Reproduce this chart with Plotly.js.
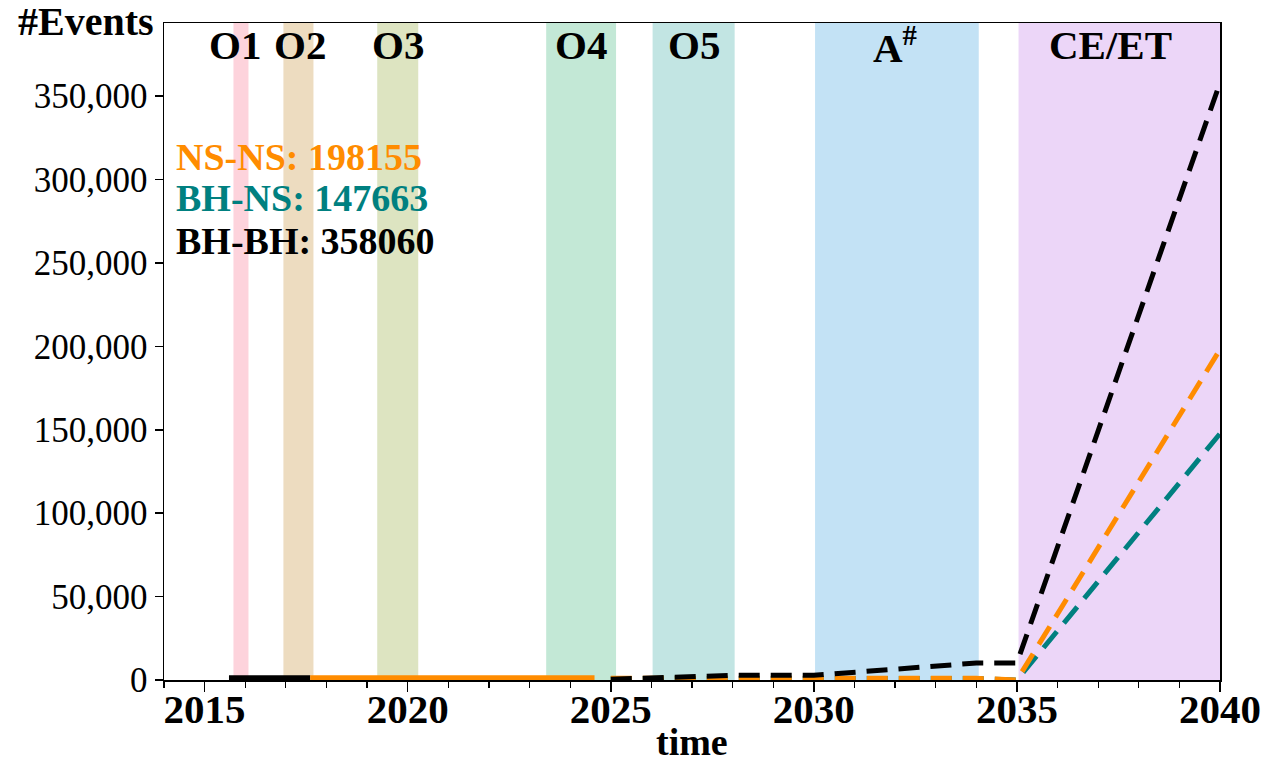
<!DOCTYPE html>
<html>
<head>
<meta charset="utf-8">
<script src="https://cdn.plot.ly/plotly-3.0.1.min.js"></script>
<style>html,body{margin:0;padding:0;background:#fff;}#chart{width:1270px;height:763px;}</style>
</head>
<body>
<div id="chart"></div>
<script>
// Observing runs (shaded bands)
const runNames  = ["O1", "O2", "O3", "O4", "O5", "A<sup>#</sup>", "CE/ET"];
const runStart  = [2015.71, 2016.94, 2019.25, 2023.41, 2026.03, 2030.03, 2035.04];
const runEnd    = [2016.08, 2017.68, 2020.26, 2025.13, 2028.05, 2034.06, 2040.0];
const runLabelX = [2015.75, 2017.35, 2019.75, 2024.27, 2027.04, 2032.0, 2037.3];
const runColors = ["#fdd3dc", "#eddcc0", "#dde4c1", "#c3e8d6", "#c2e5e3", "#c3e2f5", "#ecd6f8"];

// Observed (solid) segments
const bbSolidX = [2015.6, 2017.6];
const bbSolidY = [1300, 1300];
const nsSolidX = [2017.6, 2020.3, 2024.6];
const nsSolidY = [1300, 1300, 1300];

// Projected (dashed) segments
const projX   = [2025, 2026, 2027, 2028, 2030, 2034, 2035, 2040];
const nsnsY   = [1000, 1000, 1000, 1000, 1000, 1000, 0, 198155];
const bhnsY   = [900, 900, 900, 900, 900, 900, 0, 147663];
const bhbhY   = [500, 1400, 2200, 2800, 2800, 10200, 10200, 358060];

// Totals
const seriesNames  = ["NS-NS", "BH-NS", "BH-BH"];
const seriesTotals = [198155, 147663, 358060];
const seriesColors = ["#ff8c00", "#008080", "#000000"];

const xTicks = [2015, 2020, 2025, 2030, 2035, 2040];
const yTicks = [0, 50000, 100000, 150000, 200000, 250000, 300000, 350000];

const FONT = "Liberation Serif, Times New Roman, serif";
const dash = "21px,11px";
const LW = 5;

const traces = [
  {x: bbSolidX, y: bbSolidY, mode: "lines", line: {color: "#000", width: LW}, hoverinfo: "skip"},
  {x: nsSolidX, y: nsSolidY, mode: "lines", line: {color: seriesColors[0], width: LW}, hoverinfo: "skip"},
  {x: projX, y: bhnsY, mode: "lines", line: {color: seriesColors[1], width: LW, dash: dash}, hoverinfo: "skip"},
  {x: projX, y: nsnsY, mode: "lines", line: {color: seriesColors[0], width: LW, dash: dash}, hoverinfo: "skip"},
  {x: projX, y: bhbhY, mode: "lines", line: {color: seriesColors[2], width: LW, dash: dash}, hoverinfo: "skip"}
];

const shapes = runStart.map((s, i) => ({
  type: "rect", xref: "x", yref: "paper", x0: s, x1: runEnd[i], y0: 0, y1: 1,
  fillcolor: runColors[i], line: {width: 0}, layer: "below"
}));

const annotations = runNames.map((n, i) => ({
  x: runLabelX[i], y: 0.966, xref: "x", yref: "paper", text: "<b>" + n + "</b>",
  showarrow: false, xanchor: "center", yanchor: "middle",
  font: {family: FONT, size: 41, color: "#000"}
}));

seriesNames.forEach((n, i) => {
  annotations.push({
    x: 2014.25, y: [0.796, 0.734, 0.668][i], xref: "x", yref: "paper",
    text: "<b>" + n + ": " + seriesTotals[i] + "</b>",
    showarrow: false, xanchor: "left", yanchor: "middle",
    font: {family: FONT, size: 38, color: seriesColors[i]}
  });
});

annotations.push({
  x: 0, y: 1.0, xref: "paper", yref: "paper", xshift: -8, yshift: 2, text: "<b>#Events</b>",
  showarrow: false, xanchor: "right", yanchor: "middle",
  font: {family: FONT, size: 40, color: "#000"}
});

annotations.push({
  x: 0.5, y: 0, xref: "paper", yref: "paper", yshift: -62, text: "<b>time</b>",
  showarrow: false, xanchor: "center", yanchor: "middle",
  font: {family: FONT, size: 38, color: "#000"}
});

const layout = {
  width: 1270, height: 763,
  margin: {l: 164, r: 50, t: 23, b: 83},
  paper_bgcolor: "#fff", plot_bgcolor: "#fff",
  showlegend: false,
  xaxis: {
    range: [2014, 2040], tickvals: xTicks, ticktext: xTicks.map(v => "<b>" + v + "</b>"),
    ticks: "outside", ticklen: 10, tickwidth: 1.5, tickcolor: "#000", ticklabelstandoff: -18,
    showgrid: false, zeroline: false, showline: true, linecolor: "#000", linewidth: 1.5, mirror: true,
    tickfont: {family: FONT, size: 41, color: "#000"},
    minor: {dtick: 1, ticks: "outside", ticklen: 6, tickwidth: 1.2, tickcolor: "#000", showgrid: false}
  },
  yaxis: {
    range: [0, 393866], tickvals: yTicks, tickformat: ",d",
    ticks: "outside", ticklen: 8, tickwidth: 1.5, tickcolor: "#000",
    showgrid: false, zeroline: false, showline: true, linecolor: "#000", linewidth: 1.5, mirror: true,
    tickfont: {family: FONT, size: 35, color: "#000"}
  },
  shapes: shapes,
  annotations: annotations
};

Plotly.newPlot("chart", traces, layout, {displayModeBar: false, staticPlot: true});
</script>
</body>
</html>
